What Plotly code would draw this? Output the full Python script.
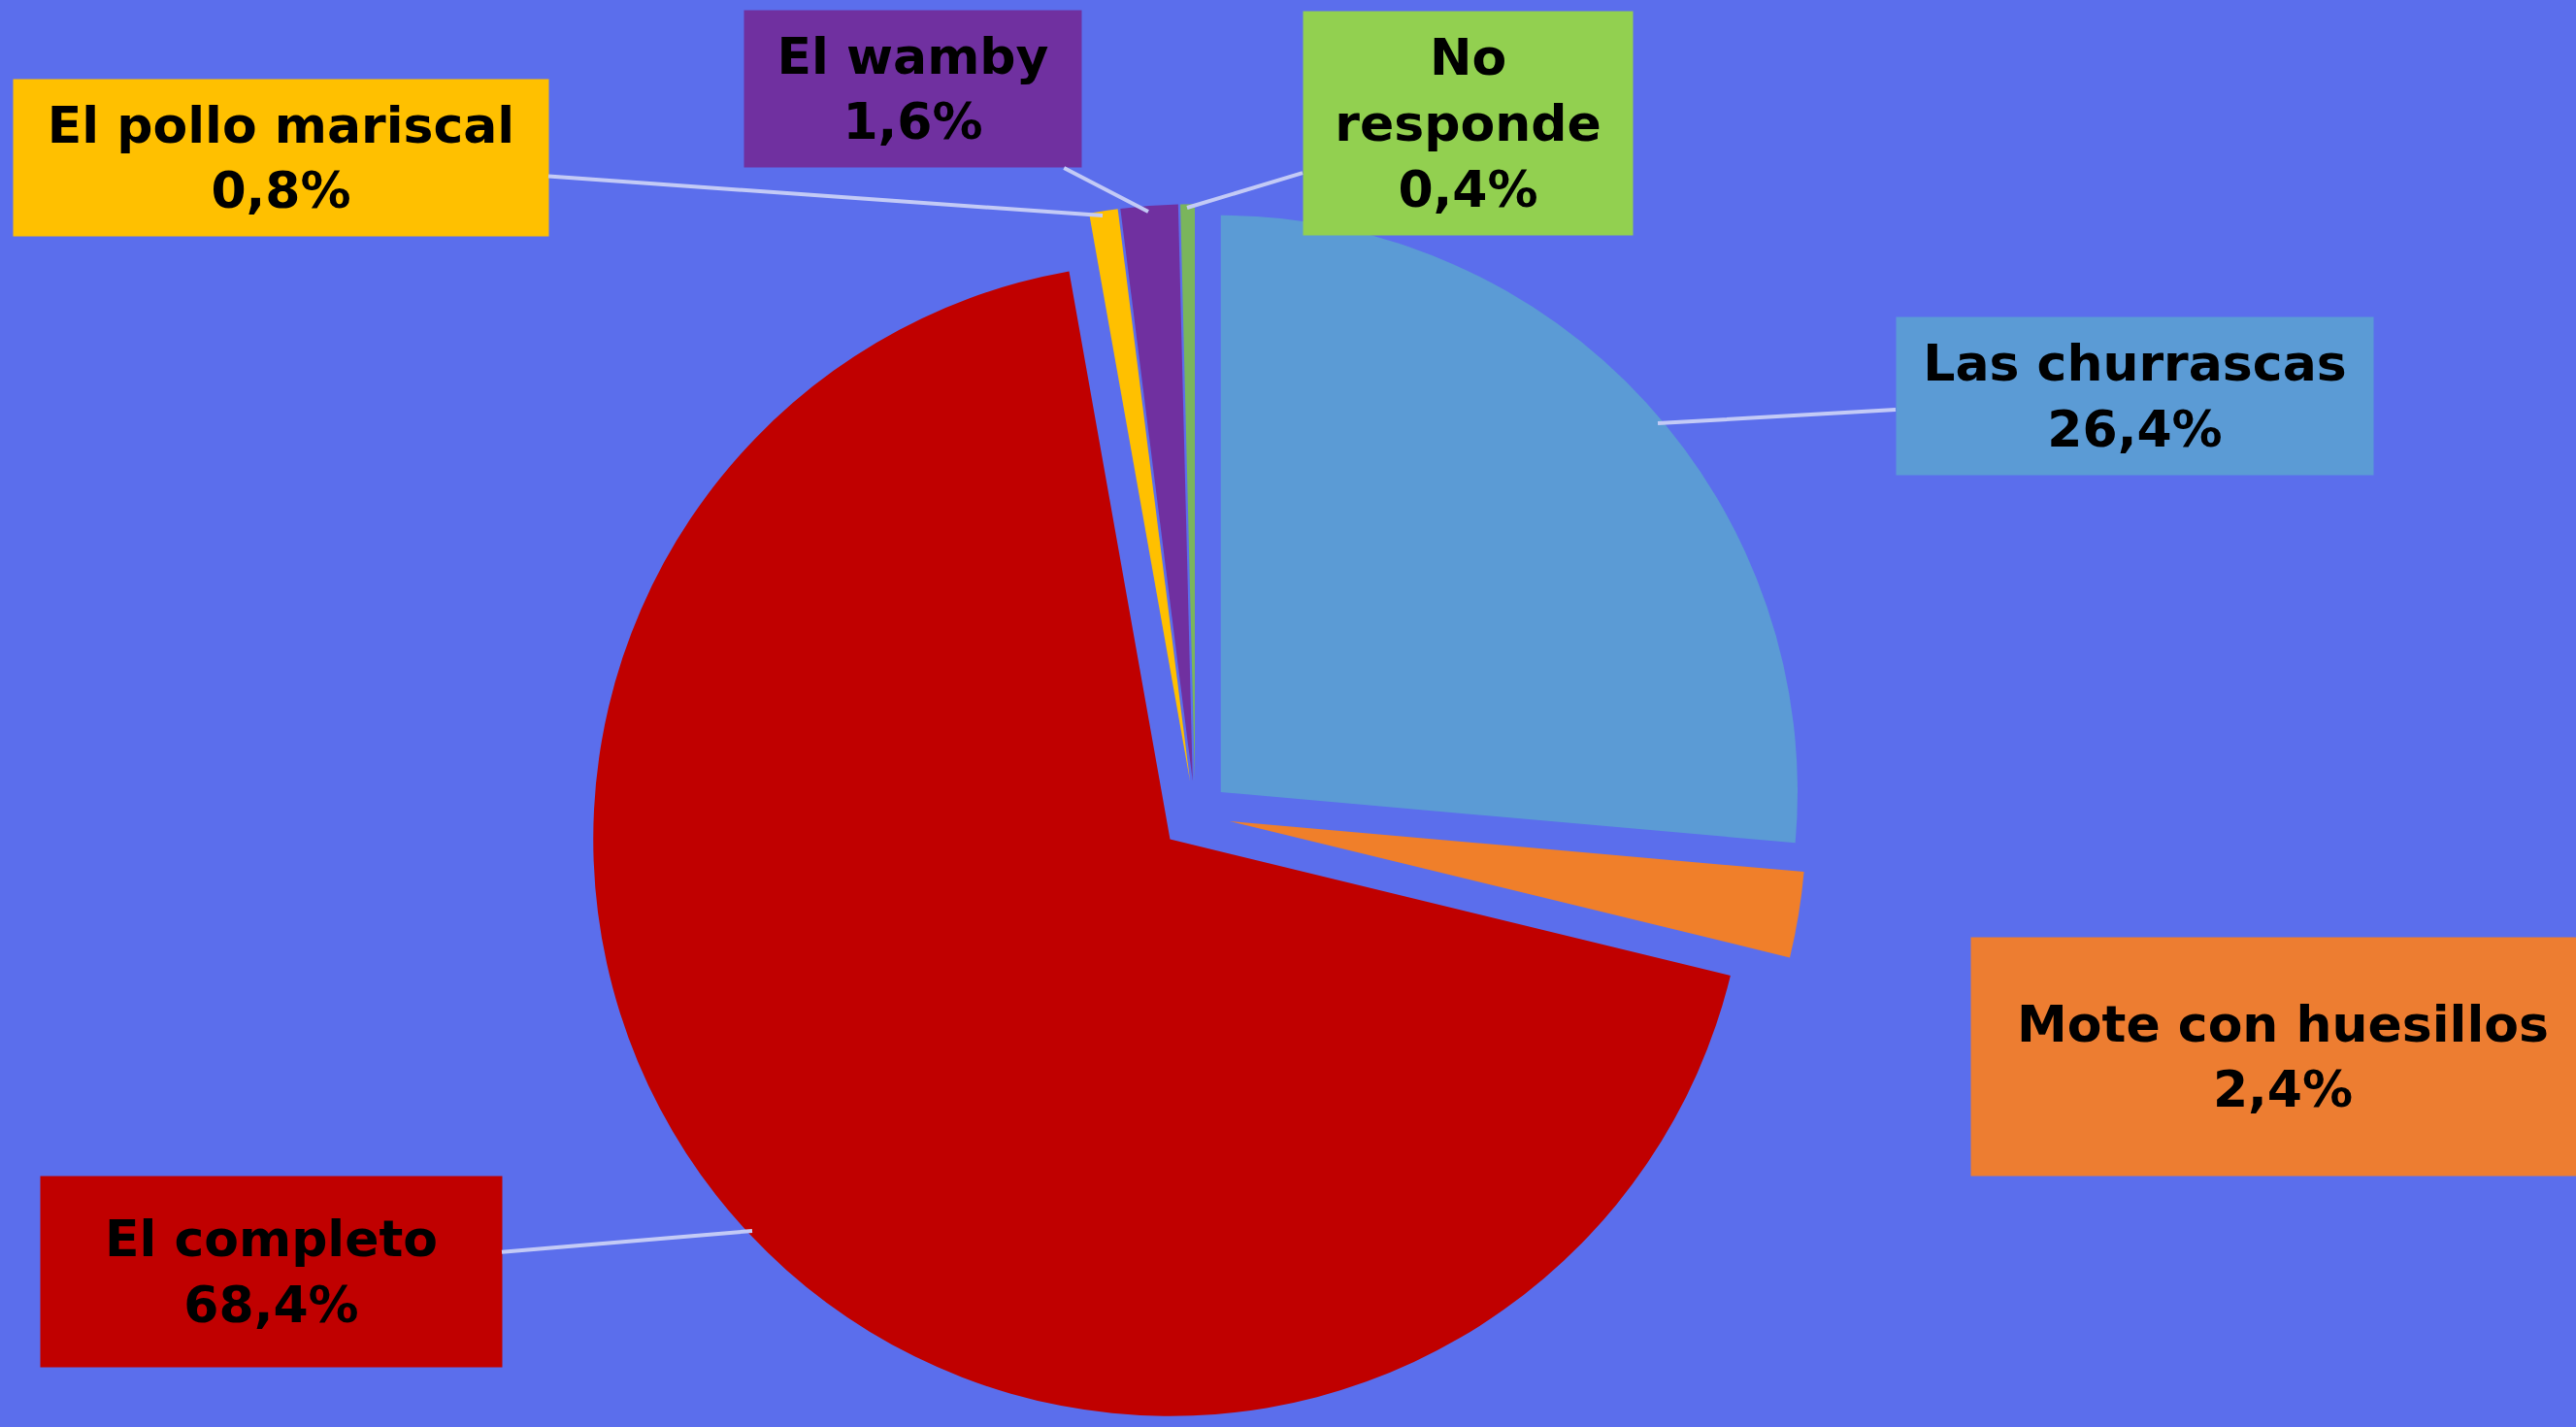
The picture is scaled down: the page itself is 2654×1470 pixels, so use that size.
import plotly.graph_objects as go

W, H = 2654, 1470

BG = "#5B6EEC"
LINE = "#C3CAF6"

labels = ["Las churrascas", "Mote con huesillos", "El completo", "El pollo mariscal", "El wamby", "No responde"]
values = [26.4, 2.4, 68.4, 0.8, 1.6, 0.4]
slice_colors = ["#5B9BD5", "#F07F2A", "#C00000", "#FFC000", "#7030A0", "#7AB55C"]
box_colors = ["#5B9BD5", "#ED7D31", "#C00000", "#FFC000", "#7030A0", "#92D050"]
box_text = ["Las churrascas", "Mote con huesillos", "El completo", "El pollo mariscal", "El wamby", "No<br>responde"]
pulls = [0.06, 0.06, 0.06, 0.06, 0.06, 0.06]


def pct(v):
    return f"{v:.1f}".replace(".", ",") + "%"


fig = go.Figure(go.Pie(
    labels=labels,
    values=values,
    sort=False,
    direction="clockwise",
    rotation=0,
    pull=pulls,
    marker=dict(colors=slice_colors, line=dict(width=0)),
    textinfo="none",
    hoverinfo="label+percent",
    domain=dict(x=[0.108, 0.82], y=[0.0, 0.857]),
))

# label boxes: (tip x, tip y, box center x, box center y, box w, box h) in pixels
boxes = {
    "Las churrascas": (1708, 436, 2199, 408, 491, 162),
    "Mote con huesillos": (None, None, 2352, 1088, 642, 245),
    "El completo": (775, 1268, 279, 1310, 475, 196),
    "El pollo mariscal": (1136, 222, 289, 162, 551, 161),
    "El wamby": (1183, 218, 940, 92, 347, 161),
    "No responde": (1223, 214, 1512, 127, 339, 230),
}

for lab, val, col, txt in zip(labels, values, box_colors, box_text):
    tx, ty, bx, by, bw, bh = boxes[lab]
    common = dict(
        text=f"{txt}<br>{pct(val)}",
        xref="paper", yref="paper",
        xanchor="center", yanchor="middle",
        bgcolor=col,
        width=bw, height=bh,
        borderpad=0,
        align="center",
        valign="middle",
        font=dict(family="DejaVu Sans", size=52, color="black", weight="bold"),
    )
    if tx is None:
        fig.add_annotation(x=bx / W, y=1 - by / H, showarrow=False, **common)
    else:
        fig.add_annotation(
            x=tx / W, y=1 - ty / H,
            ax=bx - tx, ay=by - ty,
            showarrow=True, arrowhead=0, arrowwidth=4, arrowcolor=LINE,
            **common,
        )

fig.update_layout(
    width=W, height=H,
    margin=dict(l=0, r=0, t=0, b=0),
    paper_bgcolor=BG,
    plot_bgcolor=BG,
    showlegend=False,
)

fig.write_html(
    "out.html",
    config={"displayModeBar": False},
    post_script="document.body.style.margin='0';",
)
